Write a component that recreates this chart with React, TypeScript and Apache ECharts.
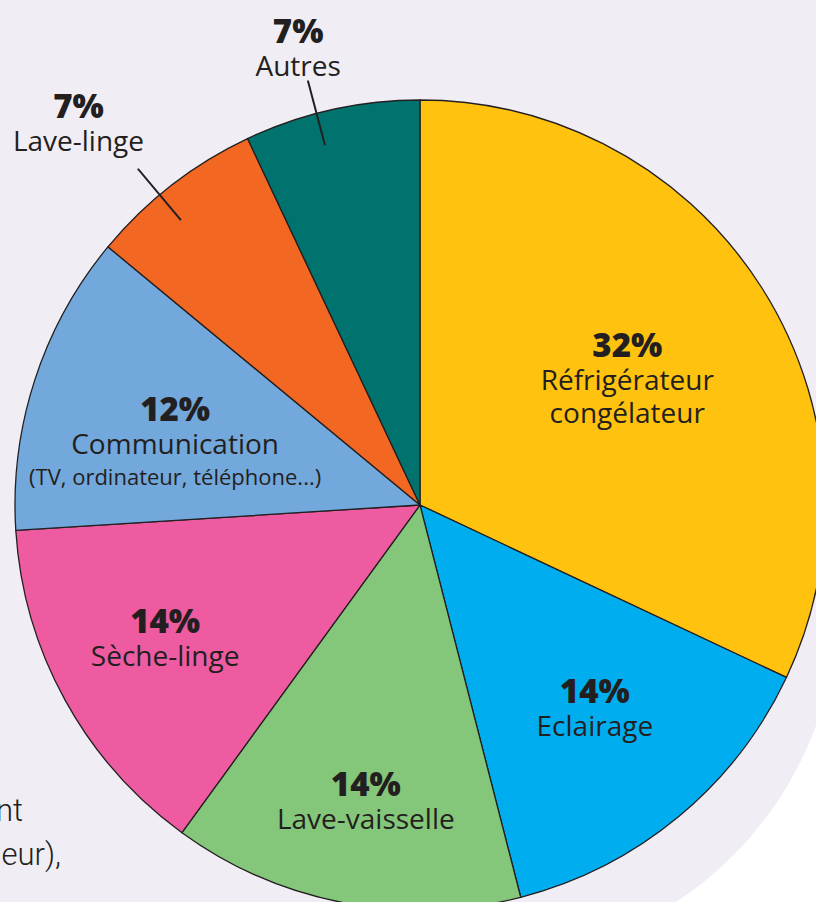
import React, { useEffect, useRef } from 'react';
import * as echarts from 'echarts';

// ---- data ----
const categories = [
  'Réfrigérateur\ncongélateur',
  'Eclairage',
  'Lave-vaisselle',
  'Sèche-linge',
  'Communication',
  'Lave-linge',
  'Autres',
];
const values = [32, 14, 14, 14, 12, 7, 7];
const notes = ['', '', '', '', '(TV, ordinateur, téléphone...)', '', ''];
const sideTexts = ['nt', 'eur),'];

// ---- styles ----
const colors = ['#FFC20E', '#00AEEF', '#84C77A', '#EE5BA0', '#72A8DB', '#F26722', '#00736F'];
const INK = '#231f20';
const FONT = "'Open Sans', 'Noto Sans', sans-serif";
const LAVENDER = '#f1edf4';
const SMALL = 10; // slices below this value get outside labels
const insideNudge: [number, number][] = [
  [-19, 17],
  [4, -4],
  [-4, 32],
  [-20, 3],
  [10, 22],
  [0, 0],
  [0, 0],
];
const outsidePadding: number[][] = [
  [0, 0, 0, 0],
  [0, 0, 0, 0],
  [0, 0, 0, 0],
  [0, 0, 0, 0],
  [0, 0, 0, 0],
  [0, 108, 13, 0],
  [0, 8, 0, 0],
];

const rich = {
  p: { fontFamily: FONT, fontSize: 33, fontWeight: 800, color: INK, lineHeight: 36 },
  n: { fontFamily: FONT, fontSize: 28, color: INK, lineHeight: 33 },
  s: { fontFamily: FONT, fontSize: 22, color: INK, lineHeight: 34 },
};

const labelText = (i: number) => {
  const lines = [`{p|${values[i]}%}`];
  categories[i].split('\n').forEach((l) => lines.push(`{n|${l}}`));
  if (notes[i]) lines.push(`{s|${notes[i]}}`);
  return lines.join('\n');
};

const CENTER = [420, 505];
const R = 405;

export default function App() {
  const ref = useRef<HTMLDivElement>(null);
  useEffect(() => {
    if (!ref.current) return;
    const chart = echarts.init(ref.current, undefined, { renderer: 'svg' });

    const baseData = categories.map((c, i) => ({
      name: c,
      value: values[i],
      itemStyle: { color: colors[i] },
    }));

    const insideData = categories.map((c, i) => ({
      name: c,
      value: values[i],
      label: { show: values[i] >= SMALL },
    }));

    const outsideData = categories.map((c, i) => ({
      name: c,
      value: values[i],
      label: { show: values[i] < SMALL, padding: outsidePadding[i] },
      labelLine: { show: values[i] < SMALL },
    }));

    const sideFont = "300 31px Roboto, 'Liberation Sans', sans-serif";

    const option: any = {
      animation: false,
      backgroundColor: '#ffffff',
      graphic: [
        { type: 'rect', z: 0, silent: true, shape: { x: 0, y: 0, width: 816, height: 602 }, style: { fill: LAVENDER } },
        { type: 'rect', z: 0, silent: true, shape: { x: 0, y: 0, width: 479, height: 902 }, style: { fill: LAVENDER } },
        { type: 'circle', z: 0, silent: true, shape: { cx: 479, cy: 602, r: 359 }, style: { fill: LAVENDER } },
        {
          type: 'text', z: 1, silent: true, x: 23, y: 810,
          style: { text: sideTexts[0], fill: INK, font: sideFont, align: 'right', verticalAlign: 'middle' },
        },
        {
          type: 'text', z: 1, silent: true, x: 61, y: 854,
          style: { text: sideTexts[1], fill: INK, font: sideFont, align: 'right', verticalAlign: 'middle' },
        },
      ],
      series: [
        {
          type: 'pie',
          z: 2,
          silent: true,
          center: CENTER,
          radius: [0, R],
          startAngle: 90,
          clockwise: true,
          data: baseData,
          itemStyle: { borderColor: INK, borderWidth: 1.3 },
          label: { show: false },
          labelLine: { show: false },
          emphasis: { disabled: true },
        },
        {
          type: 'pie',
          z: 3,
          silent: true,
          center: CENTER,
          radius: [125, R],
          startAngle: 90,
          clockwise: true,
          data: insideData,
          itemStyle: { color: 'rgba(0,0,0,0)', borderWidth: 0 },
          label: {
            position: 'inside',
            formatter: (p: any) => labelText(p.dataIndex),
            rich,
          },
          labelLine: { show: false },
          labelLayout: (p: any) => {
            const r = p.labelRect;
            if (!r) return {};
            const n = insideNudge[p.dataIndex] || [0, 0];
            return { x: r.x + r.width / 2 + n[0], y: r.y + r.height / 2 + n[1] };
          },
          emphasis: { disabled: true },
        },
        {
          type: 'pie',
          z: 4,
          silent: true,
          center: CENTER,
          radius: [0, 372],
          startAngle: 92.2,
          clockwise: true,
          avoidLabelOverlap: false,
          data: outsideData,
          itemStyle: { color: 'rgba(0,0,0,0)', borderWidth: 0 },
          label: {
            position: 'outside',
            width: 200,
            formatter: (p: any) => labelText(p.dataIndex),
            rich,
          },
          labelLine: {
            length: 66,
            length2: 1,
            lineStyle: { color: INK, width: 2 },
          },
          labelLayout: () => ({ align: 'center', verticalAlign: 'bottom' }),
          emphasis: { disabled: true },
        },
      ],
    };

    chart.setOption(option);
    return () => chart.dispose();
  }, []);

  return (
    <div
      ref={ref}
      style={{ position: 'fixed', left: 0, top: 0, width: 816, height: 902 }}
    />
  );
}
